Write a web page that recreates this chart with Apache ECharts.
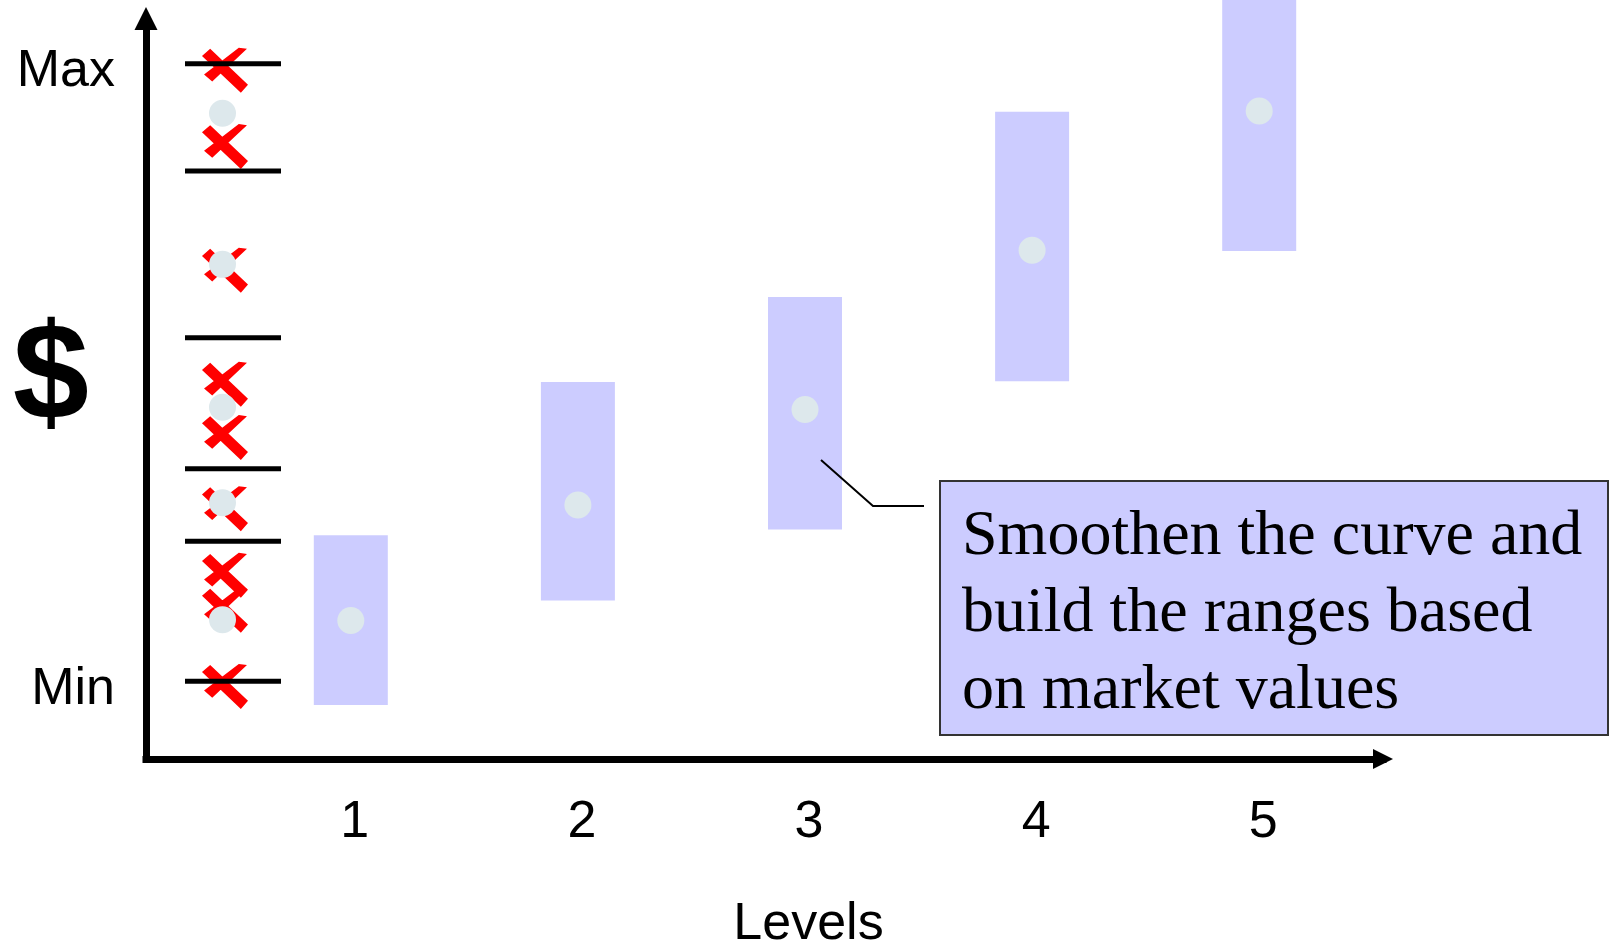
<!DOCTYPE html>
<html><head><meta charset="utf-8">
<script src="https://cdn.jsdelivr.net/npm/echarts@6/dist/echarts.min.js"></script>
<style>html,body{margin:0;padding:0;background:#fff}#c{width:1610px;height:943px}</style>
</head><body><div id="c"></div>
<script>
// ---- data (values on an abstract $ scale, 0 = axis origin, 100 = top of the axis) ----
const levels = [1, 2, 3, 4, 5];
const rangeLow  = [7.3, 21.4, 31.0, 51.0, 68.6];
const rangeHigh = [30.2, 50.9, 62.4, 87.4, 102.5];
const rangeMid  = [18.7, 34.3, 47.2, 68.7, 87.5];
const marketLines  = [93.9, 79.4, 56.9, 39.2, 29.4, 10.5];
const marketMids   = [87.2, 66.8, 47.5, 34.6, 18.8];
const marketPoints = [93.0, 82.7, 66.0, 50.6, 43.4, 33.8, 24.8, 20.1, 9.8];
const marketCategory = ['Market'];
const yTickNames = { max: 'Max', min: 'Min' };
const xAxisName = 'Levels';
const yAxisName = '$';
const calloutLines = ['Smoothen the curve and', 'build the ranges based', 'on market values'];

const maxLine = Math.max(...marketLines);
const minLine = Math.min(...marketLines);

const SANS = '"Liberation Sans", Arial, sans-serif';
const SERIF = '"Liberation Serif", "Times New Roman", serif';
const BAR = '#CCCCFF';
const DOT = '#DDE8EC';
const XPATH = 'path://M1,9L9,2L46,37L39,45Z M37,1L45,2L11,34L3,27Z';
const TRI = 'path://M5,0L10,10L0,10Z';

const chart = echarts.init(document.getElementById('c'), null, { renderer: 'canvas' });

chart.setOption({
  animation: false,
  backgroundColor: '#ffffff',
  grid: [
    { left: 146, right: 227, top: 18.5, bottom: 184, outerBoundsMode: 'none', containLabel: false },
    { left: 185, width: 96, top: 18.5, bottom: 184, outerBoundsMode: 'none', containLabel: false }
  ],
  xAxis: [
    {
      type: 'value', gridIndex: 0, min: 0.0982, max: 5.5451,
      axisLine: { show: true, symbol: ['none', TRI], symbolSize: [23, 20],
        lineStyle: { color: '#000', width: 7, cap: 'square' } },
      axisTick: { show: false },
      splitLine: { show: false },
      axisLabel: { show: true, customValues: levels, margin: 38, padding: [0, 0, 0, 8],
        color: '#000', fontSize: 52, fontFamily: SANS },
      name: xAxisName, nameLocation: 'middle', nameGap: 140, nameMoveOverlap: false,
      nameTextStyle: { color: '#000', fontSize: 52, fontFamily: SANS, padding: [0, 0, 0, 88] }
    },
    {
      type: 'category', gridIndex: 1, data: marketCategory, show: false
    }
  ],
  yAxis: [
    {
      type: 'value', gridIndex: 0, min: 0, max: 100,
      axisLine: { show: true, symbol: ['none', TRI], symbolSize: [23, 23],
        lineStyle: { color: '#000', width: 7, cap: 'square' } },
      axisTick: { show: false },
      splitLine: { show: false },
      axisLabel: {
        show: true, customValues: [minLine, maxLine], margin: 31,
        verticalAlign: 'top', lineHeight: 16,
        color: '#000', fontSize: 52, fontFamily: SANS,
        formatter: v => (Math.abs(v - maxLine) < 1e-6 ? yTickNames.max : yTickNames.min)
      },
      name: yAxisName, nameLocation: 'middle', nameRotate: 0, nameGap: 57, nameMoveOverlap: false,
      nameTextStyle: { color: '#000', fontSize: 137, fontWeight: 'bold', fontFamily: SANS,
        verticalAlign: 'bottom', lineHeight: 15 }
    },
    { type: 'value', gridIndex: 1, min: 0, max: 100, show: false }
  ],
  series: [
    {
      type: 'custom', name: 'ranges', xAxisIndex: 0, yAxisIndex: 0, clip: false, z: 2,
      data: levels.map((l, i) => [l, rangeLow[i], rangeHigh[i]]),
      renderItem: (params, api) => {
        const x = api.value(0);
        const top = api.coord([x, api.value(2)]);
        const bot = api.coord([x, api.value(1)]);
        const w = 74;
        return { type: 'rect', shape: { x: top[0] - w / 2, y: top[1], width: w, height: bot[1] - top[1] },
          style: { fill: BAR } };
      }
    },
    {
      type: 'scatter', name: 'midpoints', xAxisIndex: 0, yAxisIndex: 0, z: 3,
      symbol: 'circle', symbolSize: 27, itemStyle: { color: DOT, opacity: 1 },
      data: levels.map((l, i) => [l, rangeMid[i]])
    },
    {
      type: 'scatter', name: 'market points', xAxisIndex: 1, yAxisIndex: 1, z: 2,
      symbol: XPATH, symbolSize: [46, 45], symbolOffset: [-8, 0], itemStyle: { color: '#FF0000', opacity: 1 },
      data: marketPoints.map(v => [0, v])
    },
    {
      type: 'custom', name: 'market lines', xAxisIndex: 1, yAxisIndex: 1, z: 4, clip: false,
      data: marketLines.map(v => [0, v]),
      renderItem: (params, api) => {
        const c = api.coord([api.value(0), api.value(1)]);
        const bw = api.size([1, 0])[0];
        return { type: 'rect', shape: { x: c[0] - bw / 2, y: c[1] - 2.5, width: bw, height: 5 },
          style: { fill: '#000' } };
      }
    },
    {
      type: 'scatter', name: 'market mids', xAxisIndex: 1, yAxisIndex: 1, z: 5,
      symbol: 'circle', symbolSize: 27, symbolOffset: [-10.5, 0], itemStyle: { color: DOT, opacity: 1 },
      data: marketMids.map(v => [0, v])
    }
  ],
  graphic: [
    { type: 'polyline', z: 10, shape: { points: [[821, 460], [873, 506], [924, 506]] },
      style: { stroke: '#000', lineWidth: 2, fill: null } },
    { type: 'rect', z: 10, shape: { x: 940, y: 481, width: 668, height: 254 },
      style: { fill: BAR, stroke: '#333', lineWidth: 2 } },
    { type: 'text', z: 11, x: 962, y: 499,
      style: { text: calloutLines.join('\n'), fill: '#000', font: '64px ' + SERIF,
        lineHeight: 77, textVerticalAlign: 'top', verticalAlign: 'top' } }
  ]
});
</script>
</body></html>
